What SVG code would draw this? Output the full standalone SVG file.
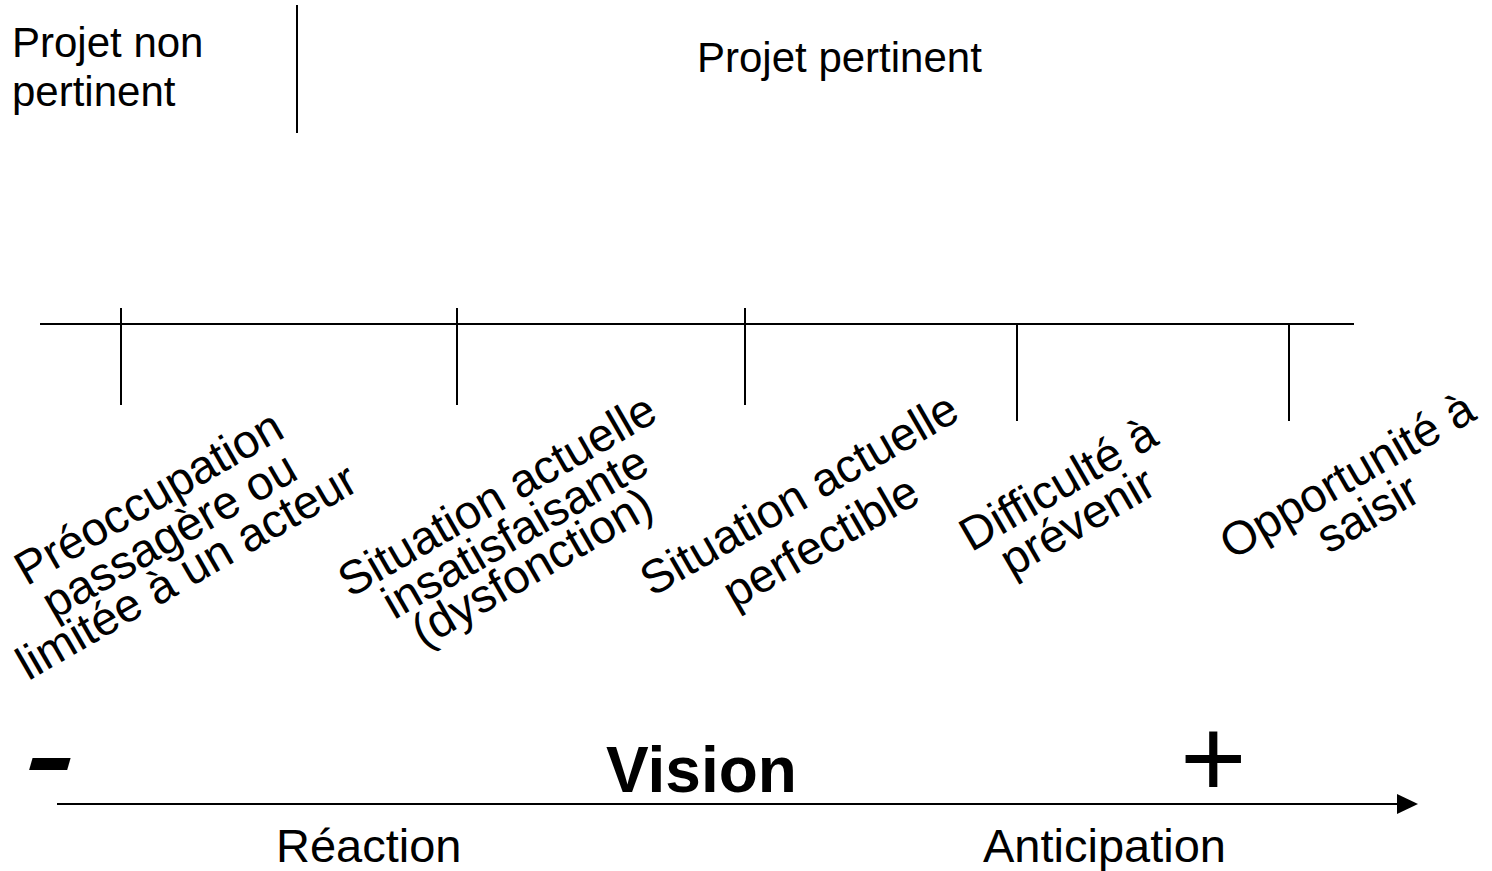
<svg xmlns="http://www.w3.org/2000/svg" width="1492" height="871" viewBox="0 0 1492 871">
  <defs>
    <style>
      text { font-family: "Liberation Sans", Arial, sans-serif; fill: #000; }
      .head { font-size: 42px; }
      .lbl { font-size: 47px; text-anchor: middle; }
      .pole { font-size: 47px; }
      .rule { stroke: #000; stroke-width: 2; fill: none; }
    </style>
  </defs>
  <rect width="1492" height="871" fill="#fff"/>

  <!-- header: relevance split -->
  <g id="header-non-pertinent">
    <text class="head" x="12" y="57">Projet non</text>
    <text class="head" x="12" y="106">pertinent</text>
  </g>
  <g id="header-pertinent">
    <text class="head" x="697" y="72">Projet pertinent</text>
  </g>

  <!-- connectors: separator, scale line with ticks, vision axis -->
  <g id="connectors" class="rule">
    <line x1="297" y1="5" x2="297" y2="133"/>
    <line x1="40" y1="324" x2="1354" y2="324"/>
    <line x1="121" y1="308" x2="121" y2="405"/>
    <line x1="457" y1="308" x2="457" y2="405"/>
    <line x1="745" y1="308" x2="745" y2="405"/>
    <line x1="1017" y1="324" x2="1017" y2="421"/>
    <line x1="1289" y1="324" x2="1289" y2="421"/>
    <line x1="57" y1="804" x2="1397" y2="804"/>
    <path d="M1397,794 L1418,804 L1397,814 z" fill="#000" stroke="none"/>
  </g>

  <!-- tick labels, slanted -->
  <g id="label-preoccupation" transform="translate(150,500) rotate(-30)">
    <text class="lbl"><tspan x="0" y="13">Préoccupation</tspan><tspan x="-1" y="56">passagère ou</tspan><tspan x="-4" y="96">limitée à un acteur</tspan></text>
  </g>
  <g id="label-insatisfaisante" transform="translate(497,495) rotate(-30)">
    <text class="lbl"><tspan x="0" y="16">Situation actuelle</tspan><tspan x="-3" y="57">insatisfaisante</tspan><tspan x="-6" y="96">(dysfonction)</tspan></text>
  </g>
  <g id="label-perfectible" transform="translate(799,494) rotate(-30)">
    <text class="lbl"><tspan x="0" y="16">Situation actuelle</tspan><tspan x="-5" y="68">perfectible</tspan></text>
  </g>
  <g id="label-difficulte" transform="translate(1058,484) rotate(-30)">
    <text class="lbl"><tspan x="0" y="16">Difficulté à</tspan><tspan x="-2" y="58">prévenir</tspan></text>
  </g>
  <g id="label-opportunite" transform="translate(1349,479) rotate(-30)">
    <text class="lbl"><tspan x="0" y="12">Opportunité à</tspan><tspan x="-1" y="55">saisir</tspan></text>
  </g>

  <!-- vision axis -->
  <g id="sign-minus">
    <text x="25" y="790" font-size="100" font-weight="bold" font-style="italic" transform="translate(25,0) scale(1.5,1) translate(-25,0)">-</text>
  </g>
  <g id="title-vision">
    <text x="606" y="792" font-size="64" font-weight="bold">Vision</text>
  </g>
  <g id="sign-plus">
    <text x="1180" y="797" font-size="114">+</text>
  </g>
  <g id="pole-reaction">
    <text class="pole" x="276" y="862">Réaction</text>
  </g>
  <g id="pole-anticipation">
    <text class="pole" x="983" y="862">Anticipation</text>
  </g>
</svg>
